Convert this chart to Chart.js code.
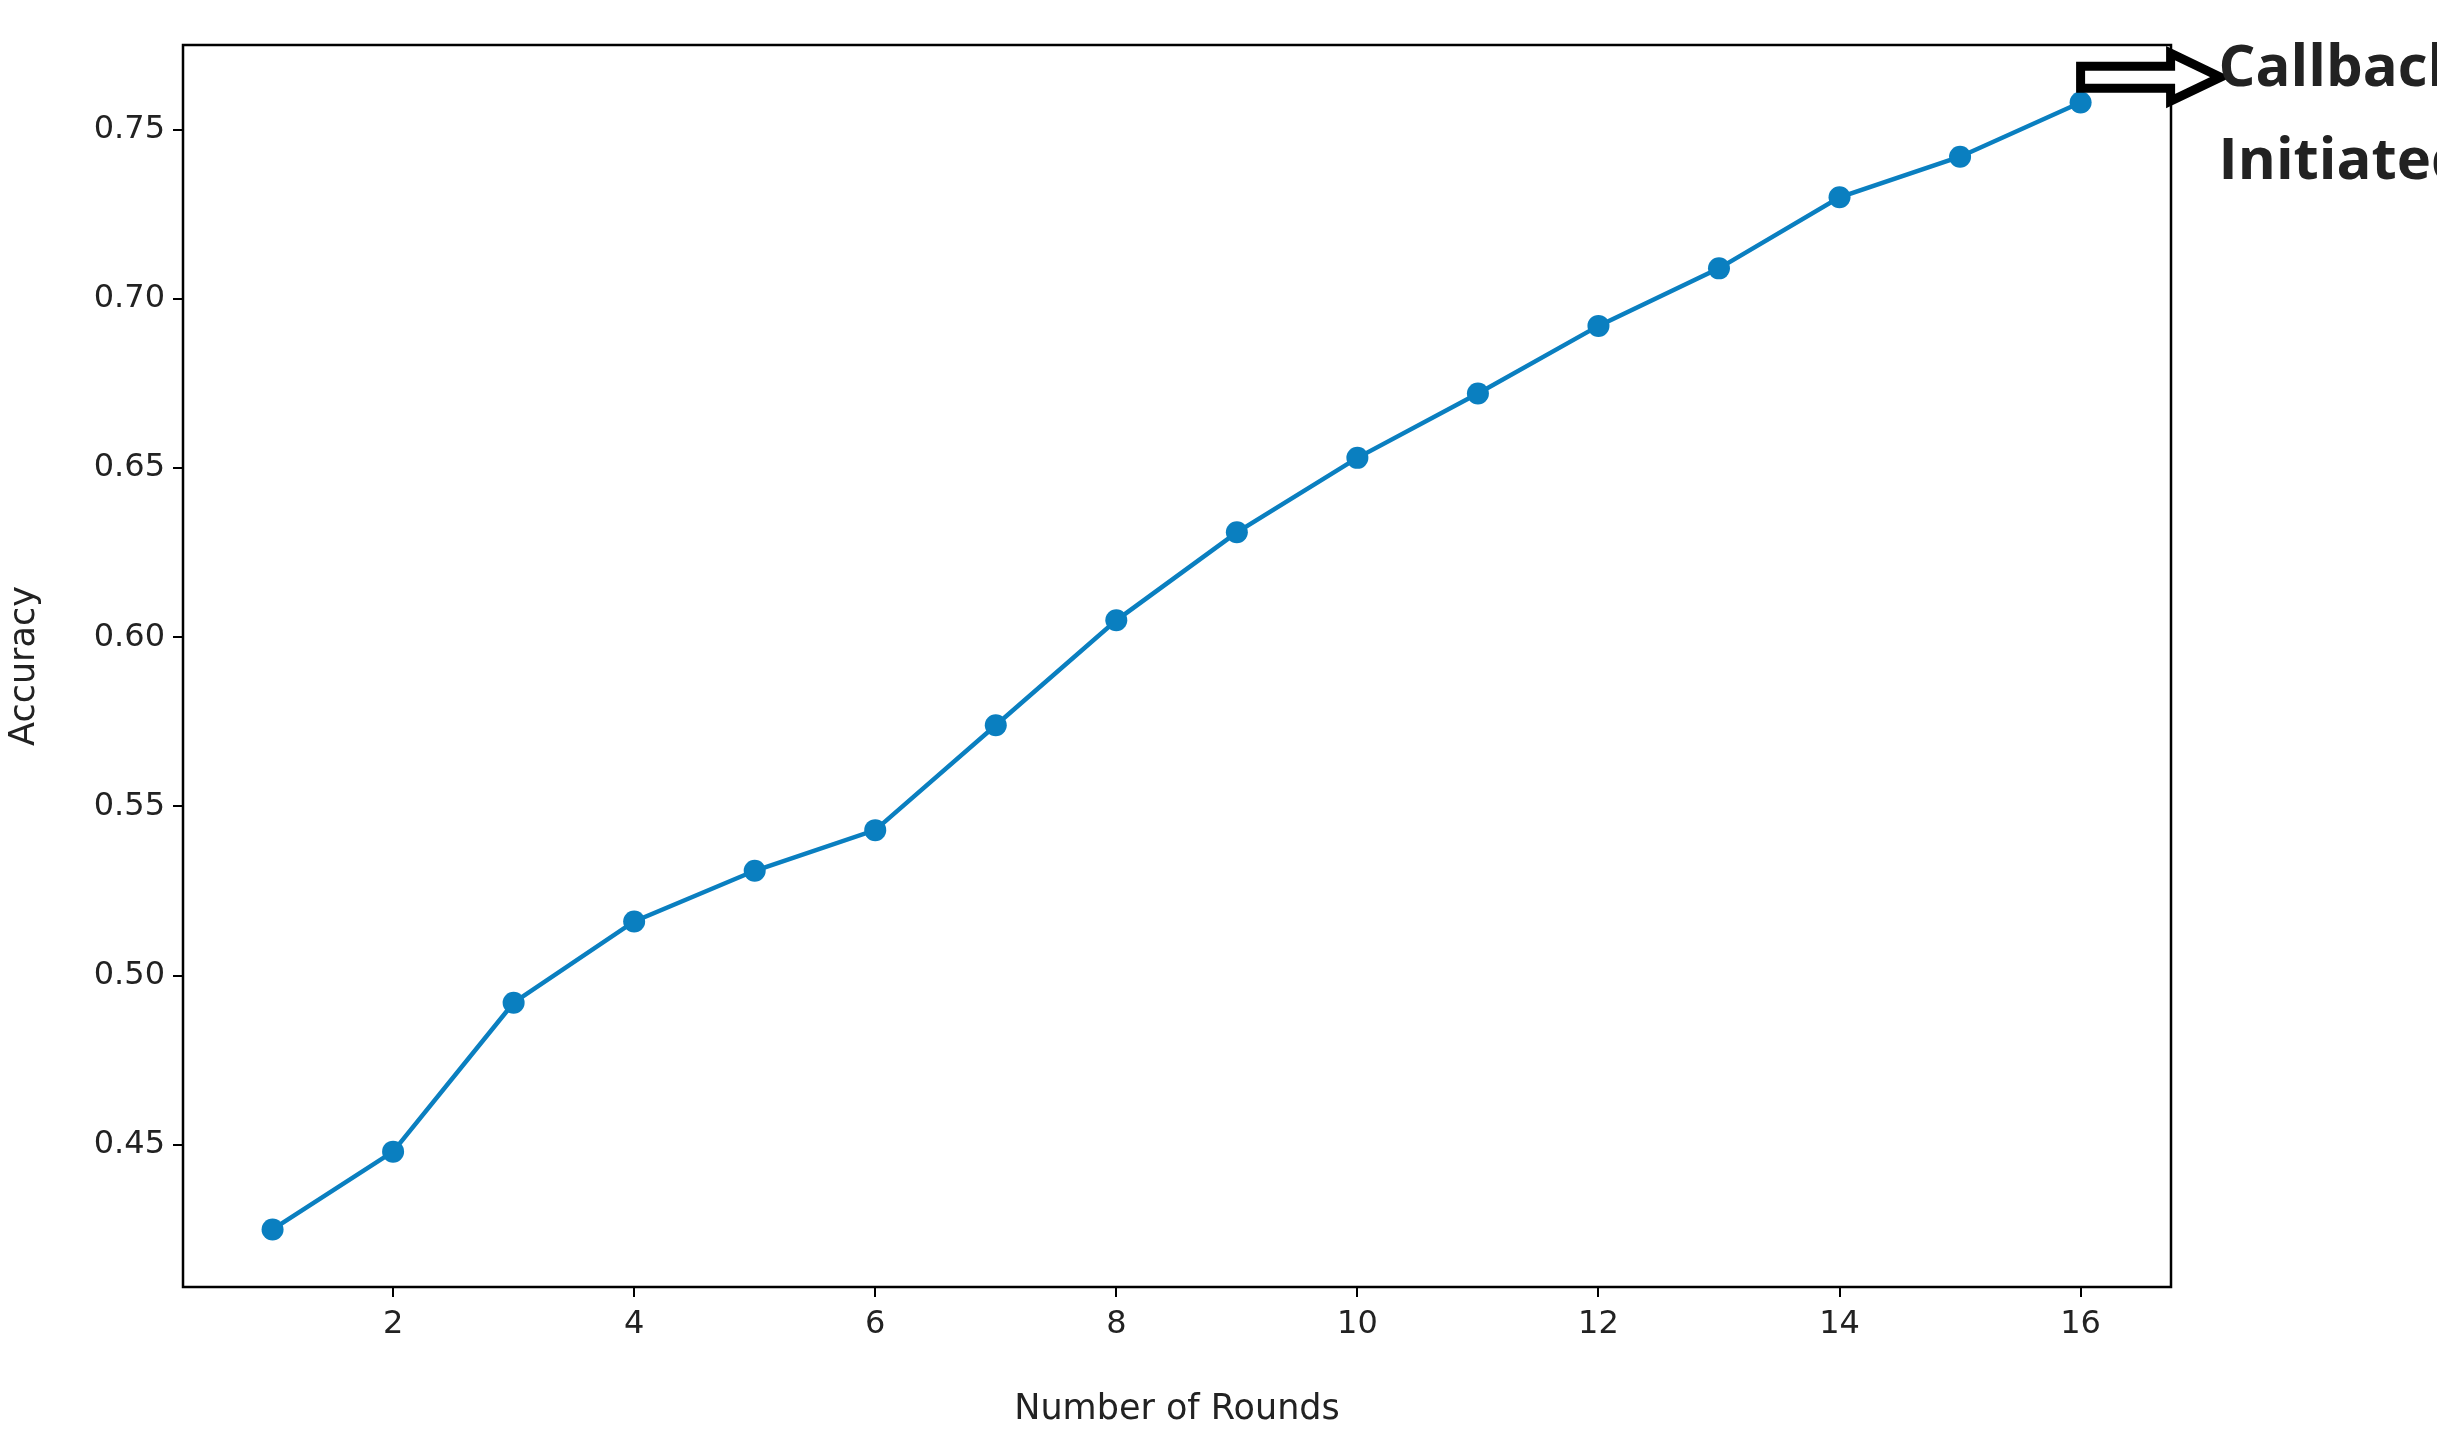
<!DOCTYPE html>
<html>
<head>
<meta charset="utf-8">
<script src="https://cdn.jsdelivr.net/npm/chart.js@4/dist/chart.umd.min.js"></script>
<style>
  html, body { margin: 0; padding: 0; background: #fff; }
  #wrap { width: 2437px; height: 1435px; }
</style>
</head>
<body>
<div id="wrap"><canvas id="chart"></canvas></div>
<script>
// data
const rounds = [1, 2, 3, 4, 5, 6, 7, 8, 9, 10, 11, 12, 13, 14, 15, 16];
const accuracy = [0.425, 0.448, 0.492, 0.516, 0.531, 0.543, 0.574, 0.605, 0.631, 0.653, 0.672, 0.692, 0.709, 0.730, 0.742, 0.758];
const xTicks = [2, 4, 6, 8, 10, 12, 14, 16];
const yTicks = [0.45, 0.50, 0.55, 0.60, 0.65, 0.70, 0.75];
const noteLines = ['Callback', 'Initiated'];

const lineColor = '#0a7fc0';

// frame around the plot + the callback arrow and note
const framePlugin = {
    id: 'frame',
    afterDraw(chart) {
        const { ctx, chartArea: a, scales } = chart;
        ctx.save();
        ctx.strokeStyle = '#000';
        ctx.lineWidth = 2.5;
        ctx.strokeRect(a.left, a.top, a.right - a.left, a.bottom - a.top);

        // hollow arrow starting at the last point
        const last = rounds.length - 1;
        const x0 = scales.x.getPixelForValue(rounds[last]);
        const y0 = scales.y.getPixelForValue(0.7655);
        const len = 140, shaft = 22, head = 48, headLen = 50;
        ctx.beginPath();
        ctx.moveTo(x0, y0 - shaft / 2);
        ctx.lineTo(x0 + len - headLen, y0 - shaft / 2);
        ctx.lineTo(x0 + len - headLen, y0 - head / 2);
        ctx.lineTo(x0 + len, y0);
        ctx.lineTo(x0 + len - headLen, y0 + head / 2);
        ctx.lineTo(x0 + len - headLen, y0 + shaft / 2);
        ctx.lineTo(x0, y0 + shaft / 2);
        ctx.closePath();
        ctx.fillStyle = '#fff';
        ctx.fill();
        ctx.lineWidth = 9;
        ctx.stroke();

        ctx.fillStyle = '#222';
        ctx.font = 'bold 58px "Open Sans", "DejaVu Sans", sans-serif';
        ctx.textBaseline = 'middle';
        ctx.textAlign = 'left';
        ctx.fillText(noteLines[0], x0 + 138, y0 - 8);
        ctx.fillText(noteLines[1], x0 + 138, y0 + 85);
        ctx.restore();
    }
};

const tickFont = { family: '"DejaVu Sans", sans-serif', size: 32 };

new Chart(document.getElementById('chart'), {
    type: 'line',
    data: {
        datasets: [{
            data: rounds.map((r, i) => ({ x: r, y: accuracy[i] })),
            borderColor: lineColor,
            backgroundColor: lineColor,
            borderWidth: 4.5,
            pointRadius: 11,
            pointHoverRadius: 11,
            pointBorderWidth: 0,
            tension: 0
        }]
    },
    options: {
        responsive: true,
        maintainAspectRatio: false,
        animation: false,
        layout: { padding: { top: 45, right: 266, left: 0, bottom: 0 } },
        plugins: { legend: { display: false }, tooltip: { enabled: false } },
        scales: {
            x: {
                type: 'linear',
                min: 0.257,
                max: 16.75,
                afterBuildTicks: s => { s.ticks = xTicks.map(v => ({ value: v })); },
                afterFit: s => { s.height = 148; },
                grid: { display: true, drawOnChartArea: false, drawTicks: true, tickLength: 10, color: '#000', lineWidth: 2 },
                border: { display: false },
                ticks: { color: '#222', font: tickFont, padding: 8, maxRotation: 0 },
                title: { display: true, text: 'Number of Rounds', color: '#222', font: { family: '"DejaVu Sans", sans-serif', size: 35 }, padding: { top: 8 } }
            },
            y: {
                min: 0.408,
                max: 0.775,
                afterBuildTicks: s => { s.ticks = yTicks.map(v => ({ value: v })); },
                afterFit: s => { s.width = 183; },
                grid: { display: true, drawOnChartArea: false, drawTicks: true, tickLength: 10, color: '#000', lineWidth: 2 },
                border: { display: false },
                ticks: { color: '#222', font: tickFont, padding: 8, callback: v => v.toFixed(2) },
                title: { display: true, text: 'Accuracy', color: '#222', font: { family: '"DejaVu Sans", sans-serif', size: 35 }, padding: { bottom: 8 } }
            }
        }
    },
    plugins: [framePlugin]
});
</script>
</body>
</html>
